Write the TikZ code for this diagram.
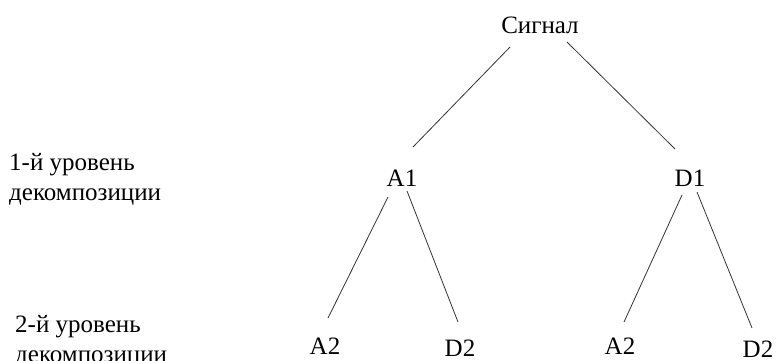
\documentclass[tikz,border=0pt]{standalone}
\usepackage{fontspec}
\setmainfont{Liberation Serif}

\begin{document}
\begin{tikzpicture}[
  x=1pt, y=-1pt,
  coef/.style={inner sep=0pt, anchor=base, font=\fontsize{25}{30}\selectfont},
  level/.style={inner sep=0pt, anchor=base west, align=left,
                font=\fontsize{25}{30}\selectfont},
  branch/.style={line width=0.8pt, draw=black!80},
]
\useasboundingbox (0,0) rectangle (776,360);

% ---- узлы ----
\node[coef] (sig) at (540,33)  {Сигнал};

\node[coef] (a1)  at (402,186) {A1};
\node[coef] (d1)  at (690,186) {D1};

\node[coef] (a2l) at (325,354) {A2};
\node[coef] (d2l) at (460,356) {D2};
\node[coef] (a2r) at (620,354) {A2};
\node[coef] (d2r) at (758,357) {D2};

% ---- уровни (base = последняя строка) ----
\node[level] (lev1) at (9,200)  {1-й уровень\\декомпозиции};
\node[level] (lev2) at (15,362) {2-й уровень\\декомпозиции};

% ---- ветви ----
\draw[branch] ([shift={(-30,14)}]sig.base) -- ([shift={(11,-39)}]a1.base);
\draw[branch] ([shift={(27,9)}]sig.base)   -- ([shift={(-15,-37)}]d1.base);
\draw[branch] ([shift={(-14,11)}]a1.base)  -- ([shift={(3,-36)}]a2l.base);
\draw[branch] ([shift={(5,5)}]a1.base)     -- ([shift={(-2,-34)}]d2l.base);
\draw[branch] ([shift={(-8,9)}]d1.base)    -- ([shift={(4,-32)}]a2r.base);
\draw[branch] ([shift={(7,6)}]d1.base)     -- ([shift={(-6,-29)}]d2r.base);

\end{tikzpicture}
\end{document}
